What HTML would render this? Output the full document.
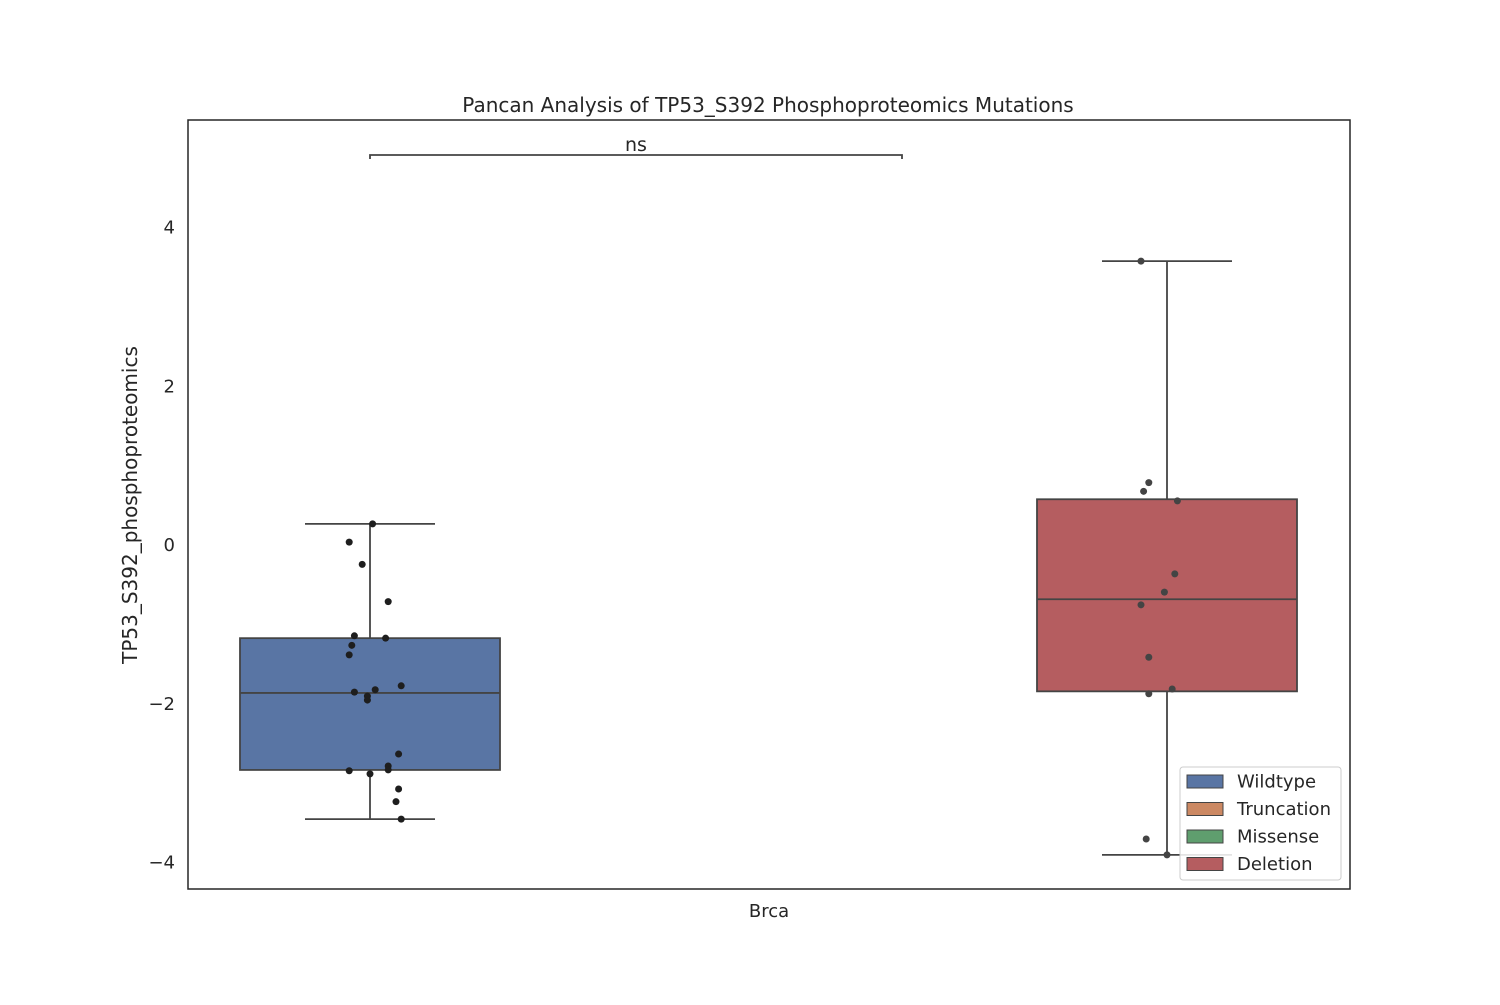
<!DOCTYPE html>
<html><head><meta charset="utf-8"><style>
body{margin:0;background:#fff;}
svg text{font-family:"DejaVu Sans","Liberation Sans",sans-serif;fill:#262626;}
</style></head><body>
<svg id="chart" width="1500" height="1000" viewBox="0 0 1500 1000"></svg>
<script>
const categories = ["Brca"];
const groups = ["Wildtype","Deletion"];
const legendLabels = ["Wildtype","Truncation","Missense","Deletion"];
const yTicks = [-4,-2,0,2,4];
const wildtypeStats = [-3.46,-2.84,-1.87,-1.18,0.26];
const deletionStats = [-3.91,-1.85,-0.69,0.57,3.57];
const wildtypePoints = [0.26,0.03,-0.25,-0.72,-1.15,-1.18,-1.27,-1.39,-1.78,-1.83,-1.86,-1.91,-1.96,-2.64,-2.79,-2.84,-2.85,-2.89,-3.08,-3.24,-3.46];
const wildtypeJitter = [0.01,-0.08,-0.03,0.07,-0.06,0.06,-0.07,-0.08,0.12,0.02,-0.06,-0.01,-0.01,0.11,0.07,0.07,-0.08,0,0.11,0.1,0.12];
const deletionPoints = [3.57,0.78,0.67,0.55,-0.37,-0.60,-0.76,-1.42,-1.82,-1.88,-3.71,-3.91];
const deletionJitter = [-0.1,-0.07,-0.09,0.04,0.03,-0.01,-0.1,-0.07,0.02,-0.07,-0.08,0];
</script>
<script>
const NS="http://www.w3.org/2000/svg";
const svg=document.getElementById('chart');
const L=188,R=1350,T=120,B=889;
const yMin=-4.34,yMax=5.348;
const y=v=>B-(v-yMin)/(yMax-yMin)*(B-T);
const groupCenters=[370,1167];
const boxW=260;
const colors={Wildtype:"#5975a4",Truncation:"#cc8963",Missense:"#5f9e6e",Deletion:"#b55d60"};
function mk(tag,attrs,parent){const e=document.createElementNS(NS,tag);for(const k in attrs)e.setAttribute(k,attrs[k]);(parent||svg).appendChild(e);return e;}

const title=mk('text',{x:768,y:112,'text-anchor':'middle','font-size':20});
title.textContent="Pancan Analysis of TP53_S392 Phosphoproteomics Mutations";



const yl=mk('text',{x:0,y:0,'text-anchor':'middle','font-size':20,transform:'translate(137,505) rotate(-90)'});
yl.textContent="TP53_S392_phosphoproteomics";



yTicks.forEach(t=>{
  const tx=mk('text',{x:175,y:y(t)+6.5,'text-anchor':'end','font-size':18});
  tx.textContent=(t<0?'\u2212':'')+Math.abs(t);
  
  
});
categories.forEach(c=>{
  const tx=mk('text',{x:(L+R)/2,y:917,'text-anchor':'middle','font-size':18});
  tx.textContent=c;
  
  
});

function drawBox(stats,cx,color,name){
  const g=mk('g',{});
  
  
  const [lo,q1,med,q3,hi]=stats;
  mk('line',{x1:cx,x2:cx,y1:y(q3),y2:y(hi),stroke:'#444','stroke-width':1.8},g);
  mk('line',{x1:cx,x2:cx,y1:y(q1),y2:y(lo),stroke:'#444','stroke-width':1.8},g);
  mk('line',{x1:cx-65,x2:cx+65,y1:y(hi),y2:y(hi),stroke:'#444','stroke-width':1.8},g);
  mk('line',{x1:cx-65,x2:cx+65,y1:y(lo),y2:y(lo),stroke:'#444','stroke-width':1.8},g);
  mk('rect',{x:cx-boxW/2,y:y(q3),width:boxW,height:y(q1)-y(q3),fill:color,stroke:'#444','stroke-width':1.8},g);
  mk('line',{x1:cx-boxW/2,x2:cx+boxW/2,y1:y(med),y2:y(med),stroke:'#444','stroke-width':1.8},g);
}
drawBox(wildtypeStats,groupCenters[0],colors.Wildtype,'wildtype');
drawBox(deletionStats,groupCenters[1],colors.Deletion,'deletion');

function drawPts(vals,jit,cx,fill,name){
  vals.forEach((v,i)=>{
    const c=mk('circle',{cx:cx+jit[i]*boxW,cy:y(v),r:3.5,fill:fill});
    
    
  });
}
drawPts(wildtypePoints,wildtypeJitter,groupCenters[0],'#1e1e1e','wildtype');
drawPts(deletionPoints,deletionJitter,groupCenters[1],'#444','deletion');

const br=mk('path',{d:'M370 159 V155 H902 V159',fill:'none',stroke:'#444','stroke-width':1.8});


const ns=mk('text',{x:636,y:151,'text-anchor':'middle','font-size':19});
ns.textContent="ns";



const frame=mk('rect',{x:L,y:T,width:R-L,height:B-T,fill:'none',stroke:'#262626','stroke-width':1.5});



const lg=mk('g',{});


mk('rect',{x:1180,y:767,width:161,height:113,rx:3,fill:'#fff','fill-opacity':0.85,stroke:'#ccc'},lg);
legendLabels.forEach((lab,i)=>{
  const yy=781+i*27.5;
  const e=mk('g',{},lg);
  
  
  mk('rect',{x:1187,y:yy-6,width:36,height:13,fill:colors[lab],stroke:'#444','stroke-width':1},e);
  const t=mk('text',{x:1237,y:yy+6.5,'font-size':18},e);
  t.textContent=lab;
});
</script>
</body></html>
